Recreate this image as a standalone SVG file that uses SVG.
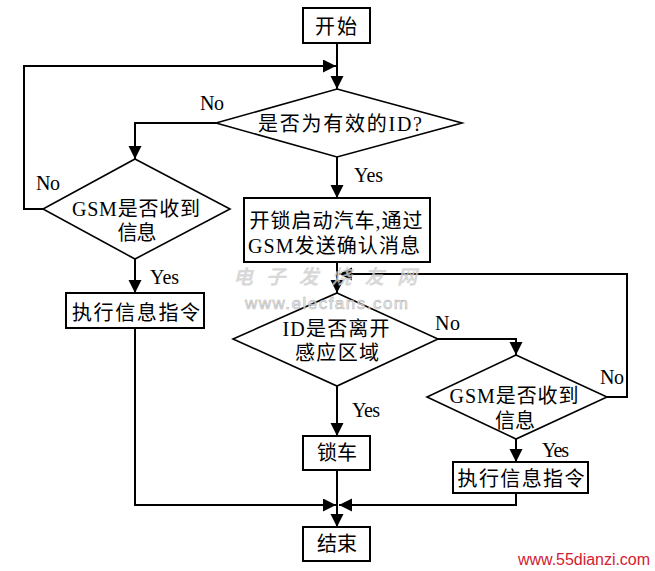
<svg xmlns="http://www.w3.org/2000/svg" width="655" height="571" viewBox="0 0 655 571">
<style>
.bg{fill:#ffffff}
.box{fill:#ffffff;stroke:#000;stroke-width:2}
.dia{fill:#ffffff;stroke:#000;stroke-width:1.6}
.t{font-family:"Liberation Serif","Noto Sans CJK SC",serif;font-size:20px;fill:#000;text-anchor:middle}
.lbl{font-family:"Liberation Serif",serif;font-size:20px;fill:#000}
.c{fill:none;stroke:#000;stroke-width:2}
.wm{font-family:"Noto Sans CJK SC",sans-serif;font-style:italic;font-weight:bold;fill:#cfcfcf;opacity:0.8}
.wm2{font-family:"Liberation Sans",sans-serif;fill:#eeeeee;stroke:#aaaaaa;stroke-width:0.6;opacity:0.85}
.red{font-family:"Liberation Sans",sans-serif;font-size:16px;fill:#d42030}
</style>
<defs>
<marker id="ah" markerUnits="userSpaceOnUse" markerWidth="14" markerHeight="14" refX="13" refY="6.5" orient="auto">
<path d="M0,0 L13,6.5 L0,13 z" fill="#000"/>
</marker>
</defs>
<rect class="bg" x="0" y="0" width="655" height="571"/>

<g id="connectors">
<path class="c" d="M337,43 L337,89" marker-end="url(#ah)"/>
<path class="c" d="M43,209 L24,209 L24,66 L336,66" marker-end="url(#ah)"/>
<path class="c" d="M216,123 L135,123 L135,159" marker-end="url(#ah)"/>
<path class="c" d="M337,157 L337,198" marker-end="url(#ah)"/>
<path class="c" d="M135,259 L135,293" marker-end="url(#ah)"/>
<path class="c" d="M135,328 L135,505 L336,505" marker-end="url(#ah)"/>
<path class="c" d="M337,262 L337,293" marker-end="url(#ah)"/>
<path class="c" d="M607,397 L627,397 L627,274 L339,274" marker-end="url(#ah)"/>
<path class="c" d="M438,339 L516,339 L516,355" marker-end="url(#ah)"/>
<path class="c" d="M337,386 L337,436" marker-end="url(#ah)"/>
<path class="c" d="M516,439 L516,462" marker-end="url(#ah)"/>
<path class="c" d="M516,493 L516,505 L339,505" marker-end="url(#ah)"/>
<path class="c" d="M337,470 L337,527" marker-end="url(#ah)"/>
</g>

<g id="labels">
<text class="lbl" x="200" y="110" textLength="24">No</text>
<text class="lbl" x="36" y="190" textLength="24">No</text>
<text class="lbl" x="354" y="182" textLength="29">Yes</text>
<text class="lbl" x="150" y="284" textLength="29">Yes</text>
<text class="lbl" x="435" y="330" textLength="25">No</text>
<text class="lbl" x="600" y="384" textLength="24">No</text>
<text class="lbl" x="352" y="417" textLength="28">Yes</text>
<text class="lbl" x="542" y="457" textLength="27">Yes</text>
</g>

<g id="start">
<rect class="box" x="303" y="8" width="67" height="35"/>
<text class="t" x="336" y="34" textLength="42">开始</text>
</g>

<g id="valid-id">
<polygon class="dia" points="337,89 462,123 337,157 216,123"/>
<text class="t" x="340" y="131" textLength="164">是否为有效的ID?</text>
</g>

<g id="gsm-left">
<polygon class="dia" points="135,159 230,209 135,259 43,209"/>
<text class="t" x="136" y="216" textLength="128">GSM是否收到</text>
<text class="t" x="137" y="240" textLength="39">信息</text>
</g>

<g id="exec-left">
<rect class="box" x="66" y="293" width="138" height="35"/>
<text class="t" x="136" y="320" textLength="128">执行信息指令</text>
</g>

<g id="unlock">
<rect class="box" x="244" y="198" width="186" height="64"/>
<text class="t" x="336" y="228" textLength="173">开锁启动汽车,通过</text>
<text class="t" x="334" y="253" textLength="172">GSM发送确认消息</text>
</g>

<g id="id-leave">
<polygon class="dia" points="337,293 438,339 337,386 233,339"/>
<text class="t" x="336" y="336" textLength="107">ID是否离开</text>
<text class="t" x="337" y="360" textLength="84">感应区域</text>
</g>

<g id="gsm-right">
<polygon class="dia" points="516,355 607,397 516,439 427,397"/>
<text class="t" x="514" y="403" textLength="129">GSM是否收到</text>
<text class="t" x="515" y="428" textLength="40">信息</text>
</g>

<g id="lock">
<rect class="box" x="303" y="436" width="67" height="34"/>
<text class="t" x="337" y="460" textLength="40">锁车</text>
</g>

<g id="exec-right">
<rect class="box" x="453" y="462" width="135" height="31"/>
<text class="t" x="521" y="486" textLength="127">执行信息指令</text>
</g>

<g id="end">
<rect class="box" x="303" y="527" width="67" height="34"/>
<text class="t" x="337" y="551" textLength="40">结束</text>
</g>

<g id="watermark">
<text class="wm" x="233" y="284" font-size="20" textLength="184">电子发烧友网</text>
<text class="wm2" x="245" y="309" font-size="17" textLength="163">www.elecfans.com</text>
</g>

<text class="red" x="518" y="565" textLength="132">www.55dianzi.com</text>
</svg>
